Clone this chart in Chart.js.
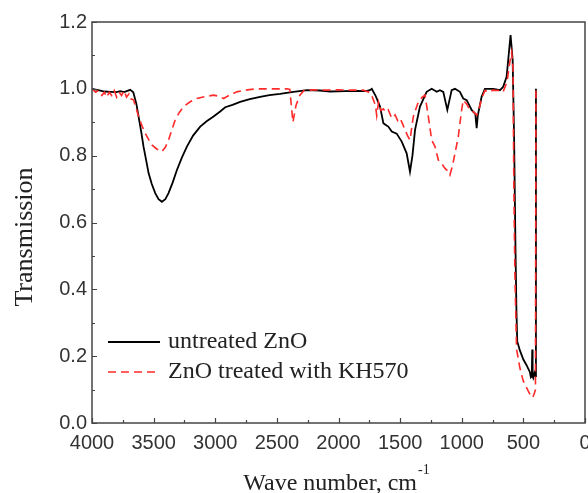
<!DOCTYPE html>
<html>
<head>
<meta charset="utf-8">
<script src="https://cdn.jsdelivr.net/npm/chart.js@4"></script>
<style>
  html, body { margin:0; padding:0; background:#fff; }
</style>
</head>
<body>
<canvas id="c" width="588" height="493"></canvas>
<script>
'use strict';

/* ── data ── */
const wnUntreated = [4000,3950,3900,3852,3800,3771,3740,3690,3665,3640,3622,3600,3582,3560,3541,3515,3487,3460,3433,3405,3379,3345,3311,3270,3230,3180,3122,3070,3014,2960,2919,2860,2798,2720,2636,2560,2474,2420,2366,2300,2257,2150,2068,1950,1850,1780,1745,1730,1700,1663,1636,1610,1596,1568,1528,1487,1447,1420,1400,1379,1339,1285,1244,1203,1177,1150,1117,1082,1055,1015,988,960,920,890,879,870,839,812,745,690,664,636,604,587,575,565,557,550,529,500,474,447,439,432,428,425,420,410,402,398];
const tUntreated  = [1.0,0.996,0.992,0.991,0.99,0.993,0.99,0.997,0.99,0.955,0.917,0.87,0.827,0.785,0.748,0.715,0.688,0.67,0.662,0.67,0.688,0.72,0.757,0.795,0.827,0.86,0.887,0.903,0.917,0.932,0.945,0.952,0.961,0.969,0.976,0.981,0.985,0.988,0.991,0.994,0.996,0.995,0.992,0.993,0.994,0.993,0.996,1.0,0.98,0.947,0.897,0.89,0.887,0.872,0.866,0.842,0.807,0.752,0.80,0.877,0.947,0.991,1.0,0.991,0.996,0.991,0.937,0.996,1.0,0.991,0.971,0.966,0.937,0.925,0.882,0.92,0.976,1.0,1.0,0.996,1.006,1.036,1.161,1.087,0.85,0.55,0.35,0.245,0.218,0.19,0.173,0.152,0.137,0.14,0.22,0.14,0.135,0.15,0.14,1.0];

const wnTreated = [4000,3970,3950,3920,3900,3880,3860,3840,3820,3800,3780,3760,3740,3720,3700,3685,3663,3640,3622,3595,3568,3540,3514,3475,3433,3405,3379,3350,3325,3290,3257,3200,3149,3080,3014,2970,2933,2880,2825,2740,2663,2540,2419,2395,2370,2345,2315,2280,2200,2100,2000,1900,1800,1762,1735,1717,1700,1690,1675,1655,1636,1615,1596,1568,1541,1520,1501,1480,1460,1440,1420,1393,1352,1320,1298,1271,1244,1217,1190,1160,1136,1115,1096,1075,1055,1028,1001,988,960,934,900,879,860,839,812,780,747,700,666,633,610,595,584,577,569,560,555,540,529,501,480,461,445,433,420,410,402,398];
const tTreated  = [1.0,0.99,0.995,0.98,0.99,0.975,0.99,0.98,0.995,0.975,0.99,0.98,0.995,0.975,0.985,0.97,0.967,0.94,0.917,0.89,0.867,0.848,0.832,0.82,0.812,0.825,0.847,0.88,0.907,0.93,0.947,0.962,0.971,0.977,0.981,0.978,0.971,0.982,0.991,0.997,1.0,1.0,1.0,0.998,0.90,0.95,0.98,0.995,0.997,0.996,0.997,0.996,0.996,0.991,0.985,0.967,0.95,0.92,0.96,0.935,0.94,0.93,0.937,0.912,0.922,0.905,0.912,0.895,0.877,0.86,0.847,0.917,0.961,0.975,0.981,0.917,0.847,0.827,0.787,0.775,0.762,0.755,0.742,0.77,0.807,0.857,0.937,0.966,0.955,0.937,0.93,0.921,0.94,0.97,0.995,0.99,0.996,0.995,0.99,1.02,1.08,1.11,1.06,0.70,0.45,0.30,0.22,0.19,0.166,0.126,0.11,0.096,0.085,0.076,0.08,0.09,0.10,1.0];

const seriesLabels = ['untreated ZnO', 'ZnO treated with KH570'];
const xTickStep = 250, xLabelStep = 500;
const yTickStep = 0.1;

const SERIF = '"Liberation Serif", "Times New Roman", serif';
const SANS  = '"Liberation Sans", Arial, sans-serif';

const pts = (xs, ys) => xs.map((v, i) => ({ x:v, y:ys[i] }));

/* ── frame, inward ticks, legend, titles ── */
const decor = {
  id:'decor',
  afterDraw(chart) {
    const { ctx, chartArea:a, scales:{ x, y } } = chart;
    ctx.save();
    ctx.strokeStyle = '#444'; ctx.lineWidth = 1.5;
    ctx.strokeRect(a.left, a.top, a.right - a.left, a.bottom - a.top);

    ctx.beginPath();
    x.ticks.forEach(t => {
      const px = Math.round(x.getPixelForValue(t.value)) + 0.5;
      const len = t.value % xLabelStep === 0 ? 5 : 3;
      ctx.moveTo(px, a.bottom); ctx.lineTo(px, a.bottom - len);
    });
    y.ticks.forEach(t => {
      const py = Math.round(y.getPixelForValue(t.value)) + 0.5;
      const major = Math.round(t.value * 10) % 2 === 0;
      ctx.moveTo(a.left, py); ctx.lineTo(a.left + (major ? 5 : 3), py);
    });
    ctx.lineWidth = 1.2;
    ctx.stroke();

    // legend inside the plot
    ctx.font = '24px ' + SERIF;
    ctx.textBaseline = 'middle'; ctx.textAlign = 'left';
    chart.data.datasets.forEach((ds, i) => {
      const ly = a.top + 320 + i * 30;
      ctx.beginPath();
      ctx.strokeStyle = ds.borderColor; ctx.lineWidth = ds.borderWidth;
      ctx.setLineDash(ds.borderDash || []);
      ctx.moveTo(a.left + 16, ly); ctx.lineTo(a.left + 68, ly);
      ctx.stroke();
      ctx.setLineDash([]);
      ctx.fillStyle = '#222';
      ctx.fillText(ds.label, a.left + 76, ly);
    });

    // y title
    ctx.save();
    ctx.translate(25, 237); ctx.rotate(-Math.PI / 2);
    ctx.textAlign = 'center'; ctx.font = '26px ' + SERIF; ctx.fillStyle = '#222';
    ctx.fillText('Transmission', 0, 0);
    ctx.restore();

    // x title with superscript
    ctx.font = '24px ' + SERIF; ctx.fillStyle = '#222'; ctx.textBaseline = 'alphabetic';
    const main = 'Wave number, cm', sup = '-1';
    const w1 = ctx.measureText(main).width;
    ctx.font = '14px ' + SERIF;
    const w2 = ctx.measureText(sup).width;
    const x0 = 336 - (w1 + w2) / 2;
    ctx.font = '24px ' + SERIF;
    ctx.fillText(main, x0, 490);
    ctx.font = '14px ' + SERIF;
    ctx.fillText(sup, x0 + w1 + 1, 474);
    ctx.restore();
  }
};

new Chart(document.getElementById('c'), {
  type:'line',
  data:{
    datasets:[
      { label:seriesLabels[0], data:pts(wnUntreated, tUntreated),
        borderColor:'#000', borderWidth:1.8, pointRadius:0, tension:0, order:1 },
      { label:seriesLabels[1], data:pts(wnTreated, tTreated),
        borderColor:'#ff2a2a', borderWidth:1.6, borderDash:[8,5], pointRadius:0, tension:0, order:0 }
    ]
  },
  options:{
    responsive:false, animation:false, devicePixelRatio:1,
    layout:{ padding:{ left:0, right:3, top:22, bottom:0 } },
    plugins:{ legend:{ display:false }, tooltip:{ enabled:false } },
    scales:{
      x:{ type:'linear', reverse:true, min:0, max:4000,
          grid:{ display:false, drawTicks:false }, border:{ display:false },
          ticks:{ stepSize:xTickStep, autoSkip:false, maxRotation:0, padding:8,
                  color:'#333', font:{ family:SANS, size:20 },
                  callback:v => v % xLabelStep === 0 ? String(v) : '' },
          afterFit:s => { s.height = 70; s.paddingLeft = 0; s.paddingRight = 0; } },
      y:{ min:0, max:1.2,
          grid:{ display:false, drawTicks:false }, border:{ display:false },
          ticks:{ stepSize:yTickStep, autoSkip:false, padding:5,
                  color:'#333', font:{ family:SANS, size:20 },
                  callback:v => Math.round(v * 10) % 2 === 0 ? v.toFixed(1) : '' },
          afterFit:s => { s.width = 92; s.paddingTop = 0; s.paddingBottom = 0; } }
    }
  },
  plugins:[decor]
});
</script>
</body>
</html>
